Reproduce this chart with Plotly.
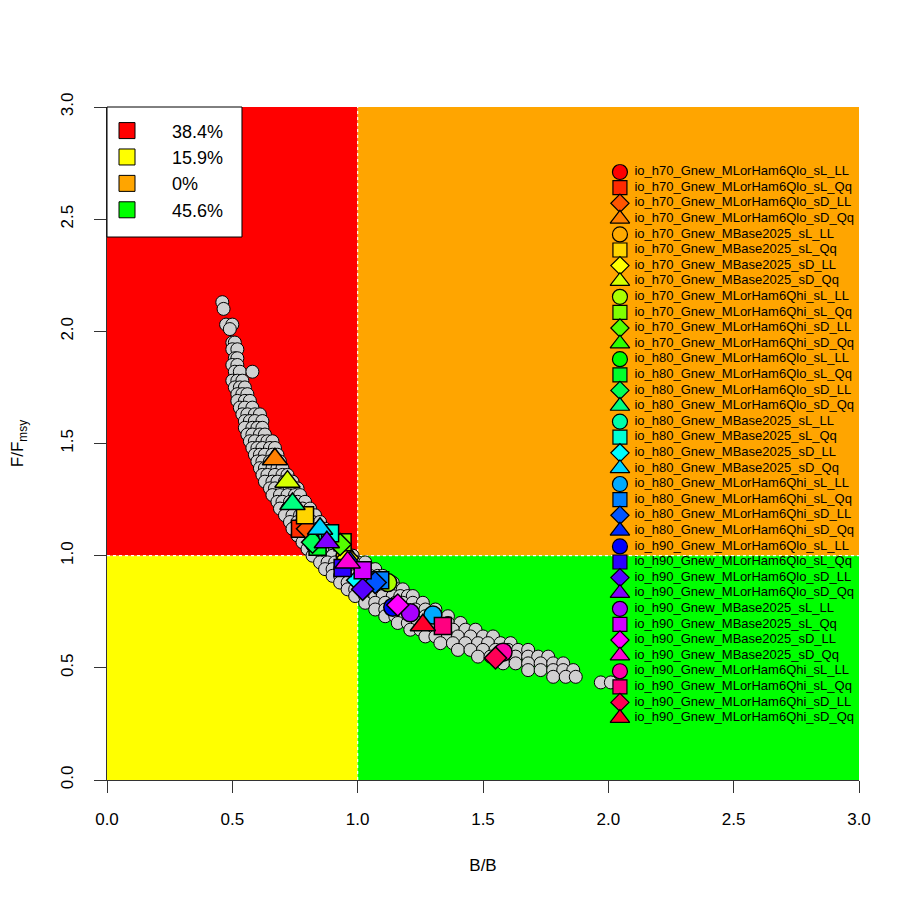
import plotly.graph_objects as go

# ---------------- data ----------------
# grey cloud of iterations (B/Bmsy, F/Fmsy)
cloud_f_levels = [2.13, 2.10, 2.03, 2.01, 1.95, 1.92, 1.88, 1.85, 1.82, 1.78, 1.75, 1.72, 1.69, 1.66,
                  1.63, 1.60, 1.57, 1.54, 1.51, 1.48, 1.45, 1.42, 1.39, 1.36, 1.33, 1.30, 1.27, 1.24,
                  1.21, 1.18, 1.15, 1.12, 1.09, 1.06, 1.03, 1.00, 0.97, 0.94, 0.91, 0.88, 0.85, 0.82,
                  0.79, 0.76, 0.73, 0.70, 0.67, 0.64, 0.61, 0.58, 0.55, 0.52, 0.49, 0.46, 0.435]
cloud_b_rows = [
    [0.46], [0.465], [0.475, 0.50], [0.49], [0.50, 0.51], [0.50, 0.52], [0.51, 0.52],
    [0.50, 0.52], [0.51, 0.53, 0.58], [0.50, 0.52, 0.54], [0.51, 0.53, 0.55],
    [0.52, 0.54, 0.56], [0.52, 0.55, 0.57], [0.53, 0.55, 0.58], [0.54, 0.56, 0.59, 0.61],
    [0.55, 0.57, 0.59, 0.62], [0.55, 0.58, 0.60, 0.62], [0.56, 0.58, 0.61, 0.63],
    [0.57, 0.59, 0.62, 0.64, 0.66], [0.58, 0.60, 0.62, 0.65, 0.67], [0.59, 0.61, 0.63, 0.66, 0.68],
    [0.60, 0.62, 0.65, 0.67, 0.69], [0.61, 0.63, 0.66, 0.68, 0.70], [0.62, 0.64, 0.67, 0.70, 0.72],
    [0.63, 0.66, 0.68, 0.71, 0.74], [0.65, 0.67, 0.70, 0.73, 0.76], [0.66, 0.69, 0.72, 0.75, 0.77],
    [0.68, 0.70, 0.73, 0.76, 0.79], [0.69, 0.72, 0.75, 0.78, 0.81], [0.71, 0.74, 0.77, 0.80, 0.83],
    [0.73, 0.76, 0.79, 0.82, 0.85], [0.74, 0.77, 0.81, 0.84, 0.87], [0.76, 0.79, 0.83, 0.86, 0.89],
    [0.78, 0.81, 0.85, 0.88, 0.92], [0.80, 0.84, 0.87, 0.91, 0.95], [0.82, 0.86, 0.90, 0.94, 0.98],
    [0.85, 0.88, 0.91, 0.94, 0.97, 1.00, 1.03],
    [0.87, 0.90, 0.93, 0.96, 0.99, 1.02, 1.05, 1.07],
    [0.90, 0.93, 0.96, 0.99, 1.02, 1.05, 1.08, 1.10],
    [0.93, 0.96, 0.99, 1.02, 1.05, 1.08, 1.11, 1.14],
    [0.96, 0.99, 1.03, 1.06, 1.10, 1.13, 1.16, 1.18],
    [0.99, 1.03, 1.07, 1.10, 1.14, 1.17, 1.20, 1.22],
    [1.03, 1.07, 1.11, 1.15, 1.18, 1.22, 1.26],
    [1.07, 1.11, 1.15, 1.19, 1.23, 1.27, 1.31],
    [1.11, 1.15, 1.19, 1.23, 1.27, 1.31, 1.36],
    [1.16, 1.20, 1.24, 1.28, 1.32, 1.36, 1.41],
    [1.21, 1.25, 1.30, 1.34, 1.38, 1.43, 1.47],
    [1.27, 1.31, 1.36, 1.40, 1.45, 1.50, 1.54],
    [1.33, 1.38, 1.43, 1.48, 1.52, 1.57, 1.61],
    [1.40, 1.45, 1.50, 1.55, 1.60, 1.64, 1.68],
    [1.48, 1.53, 1.58, 1.63, 1.68, 1.72, 1.76],
    [1.58, 1.63, 1.68, 1.73, 1.78, 1.82],
    [1.68, 1.73, 1.78, 1.82, 1.86],
    [1.78, 1.83, 1.87],
    [1.97, 2.01]]

scen_names = [
    "io_h70_Gnew_MLorHam6Qlo_sL_LL", "io_h70_Gnew_MLorHam6Qlo_sL_Qq",
    "io_h70_Gnew_MLorHam6Qlo_sD_LL", "io_h70_Gnew_MLorHam6Qlo_sD_Qq",
    "io_h70_Gnew_MBase2025_sL_LL", "io_h70_Gnew_MBase2025_sL_Qq",
    "io_h70_Gnew_MBase2025_sD_LL", "io_h70_Gnew_MBase2025_sD_Qq",
    "io_h70_Gnew_MLorHam6Qhi_sL_LL", "io_h70_Gnew_MLorHam6Qhi_sL_Qq",
    "io_h70_Gnew_MLorHam6Qhi_sD_LL", "io_h70_Gnew_MLorHam6Qhi_sD_Qq",
    "io_h80_Gnew_MLorHam6Qlo_sL_LL", "io_h80_Gnew_MLorHam6Qlo_sL_Qq",
    "io_h80_Gnew_MLorHam6Qlo_sD_LL", "io_h80_Gnew_MLorHam6Qlo_sD_Qq",
    "io_h80_Gnew_MBase2025_sL_LL", "io_h80_Gnew_MBase2025_sL_Qq",
    "io_h80_Gnew_MBase2025_sD_LL", "io_h80_Gnew_MBase2025_sD_Qq",
    "io_h80_Gnew_MLorHam6Qhi_sL_LL", "io_h80_Gnew_MLorHam6Qhi_sL_Qq",
    "io_h80_Gnew_MLorHam6Qhi_sD_LL", "io_h80_Gnew_MLorHam6Qhi_sD_Qq",
    "io_h90_Gnew_MLorHam6Qlo_sL_LL", "io_h90_Gnew_MLorHam6Qlo_sL_Qq",
    "io_h90_Gnew_MLorHam6Qlo_sD_LL", "io_h90_Gnew_MLorHam6Qlo_sD_Qq",
    "io_h90_Gnew_MBase2025_sL_LL", "io_h90_Gnew_MBase2025_sL_Qq",
    "io_h90_Gnew_MBase2025_sD_LL", "io_h90_Gnew_MBase2025_sD_Qq",
    "io_h90_Gnew_MLorHam6Qhi_sL_LL", "io_h90_Gnew_MLorHam6Qhi_sL_Qq",
    "io_h90_Gnew_MLorHam6Qhi_sD_LL", "io_h90_Gnew_MLorHam6Qhi_sD_Qq"]

scen_b = [0.78, 0.77, 0.80, 0.67,
          0.95, 0.79, 0.96, 0.72,
          1.12, 0.94, 0.93, 0.86,
          0.83, 0.84, 0.82, 0.74,
          0.88, 0.89, 1.00, 0.85,
          1.30, 1.09, 1.07, 0.97,
          1.14, 0.94, 1.02, 0.877,
          1.21, 1.02, 1.16, 0.96,
          1.58, 1.34, 1.55, 1.26]
scen_f = [1.13, 1.12, 1.12, 1.43,
          1.00, 1.18, 0.99, 1.33,
          0.88, 1.06, 1.05, 1.07,
          1.05, 1.04, 1.06, 1.23,
          1.09, 1.10, 0.89, 1.12,
          0.735, 0.89, 0.88, 0.97,
          0.77, 0.945, 0.85, 1.06,
          0.745, 0.935, 0.78, 0.97,
          0.57, 0.687, 0.544, 0.69]

quad_labels = ["38.4%", "15.9%", "0%", "45.6%"]

# ---------------- styles ----------------
scen_colors = ["#FF0000", "#FF2A00", "#FF5500", "#FF8000", "#FFAA00", "#FFD500",
               "#FFFF00", "#D5FF00", "#AAFF00", "#80FF00", "#55FF00", "#2BFF00",
               "#00FF00", "#00FF2A", "#00FF55", "#00FF80", "#00FFAA", "#00FFD5",
               "#00FFFF", "#00D5FF", "#00AAFF", "#0080FF", "#0055FF", "#002BFF",
               "#0000FF", "#2A00FF", "#5500FF", "#8000FF", "#AA00FF", "#D500FF",
               "#FF00FF", "#FF00D5", "#FF00AA", "#FF0080", "#FF0055", "#FF002B"]
base_symbols = ["circle", "square", "diamond", "triangle-up"]
plot_sizes = {"circle": 18, "square": 17, "diamond": 17, "triangle-up": 22}
leg_sizes = {"circle": 15, "square": 14, "diamond": 14, "triangle-up": 17}
scen_symbols = [base_symbols[i % 4] for i in range(len(scen_names))]
quad_colors = ["#FF0000", "#FFFF00", "#FFA500", "#00FF00"]

FONT = "Liberation Sans, Arial, sans-serif"

b_cloud, f_cloud = [], []
for fv, row in zip(cloud_f_levels, cloud_b_rows):
    for bv in row:
        b_cloud.append(bv)
        f_cloud.append(fv)

fig = go.Figure()

fig.add_trace(go.Scatter(
    x=b_cloud, y=f_cloud, mode="markers", showlegend=False, hoverinfo="skip",
    marker=dict(size=13, color="#D0D0D0", opacity=1, line=dict(color="black", width=1))))

fig.add_trace(go.Scatter(
    x=scen_b, y=scen_f, mode="markers", showlegend=False, text=scen_names,
    marker=dict(size=[plot_sizes[s] for s in scen_symbols], symbol=scen_symbols, opacity=1,
                color=scen_colors, line=dict(color="black", width=1.5))))

# quadrant legend (top-left)
nb = "\u00a0"
for lab, col in zip(quad_labels, quad_colors):
    fig.add_trace(go.Scatter(
        x=[None], y=[None], mode="markers", name=nb * 5 + lab, legend="legend2",
        marker=dict(symbol="square", size=18, color=col, line=dict(color="black", width=1))))

# scenario legend (right), drawn on a helper axis pair
fig.add_trace(go.Scatter(
    x=[0] * len(scen_names), y=scen_names, mode="markers", xaxis="x2", yaxis="y2",
    showlegend=False, hoverinfo="skip",
    marker=dict(size=[leg_sizes[s] for s in scen_symbols], symbol=scen_symbols, opacity=1,
                color=scen_colors, line=dict(color="black", width=1.2))))
fig.add_trace(go.Scatter(
    x=[0] * len(scen_names), y=scen_names, mode="text", xaxis="x2", yaxis="y2",
    text=[nb * 4 + n for n in scen_names], textposition="middle right",
    textfont=dict(family=FONT, size=13, color="black"),
    showlegend=False, hoverinfo="skip"))

shapes = [
    dict(type="rect", xref="x", yref="y", x0=0, x1=1, y0=1, y1=3, fillcolor=quad_colors[0], line_width=0, layer="below"),
    dict(type="rect", xref="x", yref="y", x0=0, x1=1, y0=0, y1=1, fillcolor=quad_colors[1], line_width=0, layer="below"),
    dict(type="rect", xref="x", yref="y", x0=1, x1=3, y0=1, y1=3, fillcolor=quad_colors[2], line_width=0, layer="below"),
    dict(type="rect", xref="x", yref="y", x0=1, x1=3, y0=0, y1=1, fillcolor=quad_colors[3], line_width=0, layer="below"),
    dict(type="line", xref="x", yref="y", x0=1, x1=1, y0=0, y1=3, line=dict(color="white", width=1.2, dash="dot"), layer="below"),
    dict(type="line", xref="x", yref="y", x0=0, x1=3, y0=1, y1=1, line=dict(color="white", width=1.2, dash="dot"), layer="below"),
    # white box behind the quadrant legend
    dict(type="rect", xref="paper", yref="paper", x0=0, x1=0.1795, y0=0.8068, y1=1.0,
         fillcolor="white", line=dict(color="black", width=1), layer="above"),
]

axis_common = dict(showgrid=False, zeroline=False, ticks="outside", ticklen=12, tickwidth=1,
                   tickcolor="#333333", showline=True, linecolor="#333333", linewidth=1,
                   tickfont=dict(family=FONT, size=17, color="black"), tickformat=".1f", dtick=0.5,
                   automargin=False)

fig.update_layout(
    width=914, height=914,
    margin=dict(l=99, r=63, t=99, b=142),
    paper_bgcolor="white", plot_bgcolor="rgba(0,0,0,0)",
    font=dict(family=FONT, size=16, color="black"),
    shapes=shapes,
    showlegend=True,
    legend2=dict(x=0, y=0.992, xanchor="left", yanchor="top", bgcolor="rgba(0,0,0,0)",
                 borderwidth=0, font=dict(family=FONT, size=18),
                 tracegroupgap=0, itemclick=False),
    xaxis=dict(range=[0, 3], ticklabelstandoff=12,
               title=dict(text="B/B", font=dict(size=17), standoff=30), **axis_common),
    yaxis=dict(range=[0, 3], tickangle=-90, ticklabelstandoff=14,
               title=dict(text="F/F<sub>msy</sub>", font=dict(size=17), standoff=38),
               **axis_common),
    xaxis2=dict(domain=[0.66, 1.0], range=[-0.65, 9.35], anchor="y2", visible=False, fixedrange=True),
    yaxis2=dict(domain=[0.0805, 0.915], type="category", categoryarray=scen_names,
                range=[35.5, -0.5], anchor="x2", visible=False, fixedrange=True),
)

fig.write_html("out.html")
